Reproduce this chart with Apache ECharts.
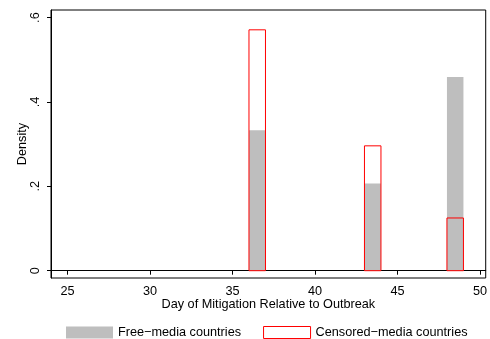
<!DOCTYPE html>
<html>
<head>
<meta charset="utf-8">
<script src="https://cdn.jsdelivr.net/npm/echarts@6/dist/echarts.min.js"></script>
<style>html,body{margin:0;padding:0;background:#fff}#c{width:490px;height:339px}</style>
</head>
<body>
<div id="c"></div>
<script>
// Histogram bins (start, end) and densities
var binStart = [36, 43, 48];
var binEnd = [37, 44, 49];
var freeDensity = [0.333, 0.207, 0.459];
var censoredDensity = [0.571, 0.296, 0.125];
var xTicks = [25, 30, 35, 40, 45, 50];
var yTicks = [0, 0.2, 0.4, 0.6];
var yTickLabels = ['0', '.2', '.4', '.6'];

function rows(vals) {
  return binStart.map(function (s, i) { return [s, binEnd[i], vals[i]]; });
}
function makeRender(fill, stroke) {
  return function (params, api) {
    var p0 = api.coord([api.value(0), api.value(2)]);
    var p1 = api.coord([api.value(1), 0]);
    return {
      type: 'rect',
      shape: { x: p0[0], y: p0[1], width: p1[0] - p0[0], height: p1[1] - p0[1] },
      style: { fill: fill, stroke: stroke, lineWidth: stroke ? 1 : 0 }
    };
  };
}
var font = 'Liberation Sans, Arial, sans-serif';
var fs = 12.7;
var chart = echarts.init(document.getElementById('c'), null, { renderer: 'canvas' });
chart.setOption({
  animation: false,
  textStyle: { fontFamily: font },
  grid: { left: 51, top: 10, right: 3, bottom: 61, show: true, borderColor: '#000', borderWidth: 1 },
  xAxis: {
    type: 'value', min: 24, max: 50.35,
    name: 'Day of Mitigation Relative to Outbreak', nameLocation: 'middle', nameGap: 20,
    nameMoveOverlap: false,
    nameTextStyle: { color: '#000', fontSize: fs, fontFamily: font },
    axisLine: { show: true, lineStyle: { color: '#000', width: 1 } },
    axisTick: { show: true, length: 4, customValues: xTicks, lineStyle: { color: '#000' } },
    axisLabel: { customValues: xTicks, color: '#000', fontSize: fs, margin: 7, fontFamily: font },
    splitLine: { show: false }
  },
  yAxis: {
    type: 'value', min: -0.0173, max: 0.618,
    name: 'Density', nameLocation: 'middle', nameGap: 22, nameRotate: 90,
    nameMoveOverlap: false,
    nameTextStyle: { color: '#000', fontSize: fs, fontFamily: font },
    axisLine: { show: true, lineStyle: { color: '#000', width: 1 } },
    axisTick: { show: true, length: 4, customValues: yTicks, lineStyle: { color: '#000' } },
    axisLabel: {
      customValues: yTicks, color: '#000', fontSize: fs, margin: 9, rotate: 90, fontFamily: font,
      formatter: function (v) { var i = yTicks.indexOf(v); return i >= 0 ? yTickLabels[i] : ''; }
    },
    splitLine: { show: false }
  },
  legend: {
    left: 66, top: 326, itemWidth: 47, itemHeight: 12, itemGap: 22, padding: 0,
    textStyle: { color: '#000', fontSize: fs, fontFamily: font },
    data: [
      { name: 'Free\u2212media countries', icon: 'rect', itemStyle: { color: '#bebebe', borderWidth: 0 } },
      { name: 'Censored\u2212media countries', icon: 'rect', itemStyle: { color: '#fff', borderColor: '#ff0000', borderWidth: 1 } }
    ]
  },
  series: [
    {
      name: 'Free\u2212media countries', type: 'custom', data: rows(freeDensity),
      encode: { x: [0, 1], y: 2 }, itemStyle: { color: '#bebebe' },
      renderItem: makeRender('#bebebe', null)
    },
    {
      name: 'Censored\u2212media countries', type: 'custom', data: rows(censoredDensity),
      encode: { x: [0, 1], y: 2 }, itemStyle: { color: '#fff', borderColor: '#ff0000' },
      renderItem: makeRender('rgba(0,0,0,0)', '#ff0000')
    }
  ]
});
</script>
</body>
</html>
